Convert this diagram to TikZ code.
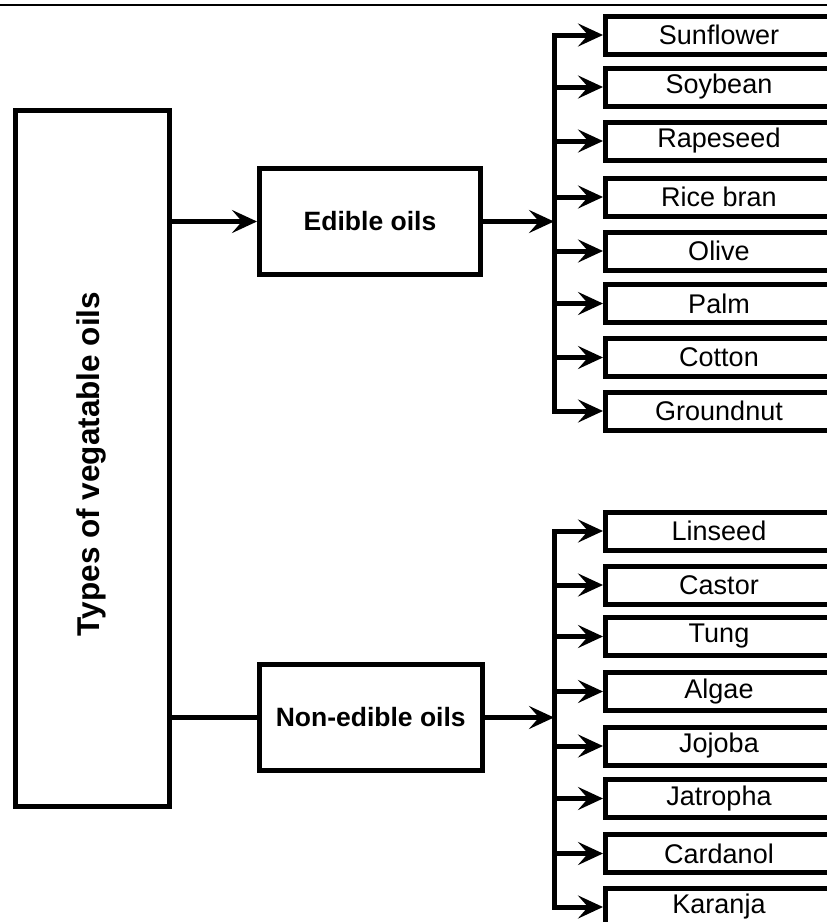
\documentclass[tikz,border=0pt]{standalone}
\usepackage{fontspec}
\setmainfont{Liberation Sans}
\usetikzlibrary{arrows.meta}
\begin{document}
\begin{tikzpicture}[x=1pt,y=-1pt,
  box/.style={draw, line width=5pt, inner sep=0pt, align=center},
  item/.style={box, minimum width=227pt, minimum height=38pt, anchor=west,
    font=\fontsize{27}{30}\selectfont},
  conn/.style={line width=5pt},
  arr/.style={conn, -{Stealth[length=25pt,width=23pt,inset=10pt]}}]
\useasboundingbox (0,0) rectangle (827,922);
\clip (0,0) rectangle (827,922);
\coordinate (rl) at (0,5);
\coordinate (rr) at (827,5);
\draw[line width=2pt] (rl) -- (rr);

\node[box, minimum width=154.5pt, minimum height=695.5pt] (types) at (92.25,458.25) {};
\node[rotate=90, inner sep=0pt, font=\bfseries\fontsize{31.5}{36}\selectfont] (typeslabel) at (91,464) {Types of vegatable oils};
\node[box, minimum width=221pt, minimum height=106pt,
  font=\bfseries\fontsize{26.5}{30}\selectfont] (edible) at (370,221.5) {Edible oils};
\node[box, minimum width=222.5pt, minimum height=106pt,
  font=\bfseries\fontsize{26.5}{30}\selectfont] (nonedible) at (370.75,717.5) {Non-edible oils};

\coordinate (eb) at (554,222);
\coordinate (nb) at (554,716);

\draw[arr] (types.east |- edible.west) -- (edible.west);
\draw[conn] (types.east |- nonedible.west) -- (nonedible.west);
\draw[arr] (edible.east) -- (edible.east -| eb);
\draw[arr] (nonedible.east) -- (nonedible.east -| nb);

\node[item] (sunflower) at (603,35) {Sunflower};
\node[item] (soybean) at (603,87) {Soybean};
\node[item] (rapeseed) at (603,141) {Rapeseed};
\node[item] (ricebran) at (603,197) {Rice bran};
\node[item] (olive) at (603,251) {Olive};
\node[item] (palm) at (603,303.5) {Palm};
\node[item] (cotton) at (603,357.5) {Cotton};
\node[item] (groundnut) at (603,411) {Groundnut};

\node[item] (linseed) at (603,531) {Linseed};
\node[item] (castor) at (603,585) {Castor};
\node[item] (tung) at (603,636.5) {Tung};
\node[item] (algae) at (603,691.5) {Algae};
\node[item] (jojoba) at (603,746) {Jojoba};
\node[item] (jatropha) at (603,798.5) {Jatropha};
\node[item] (cardanol) at (603,853.5) {Cardanol};
\node[item] (karanja) at (603,907) {Karanja};

\draw[conn, line cap=rect] (sunflower.west -| eb) -- (groundnut.west -| eb);
\draw[conn, line cap=rect] (linseed.west -| nb) -- (karanja.west -| nb);
\foreach \n in {sunflower,soybean,rapeseed,ricebran,olive,palm,cotton,groundnut}
  \draw[arr] (\n.west -| eb) -- (\n.west);
\foreach \n in {linseed,castor,tung,algae,jojoba,jatropha,cardanol,karanja}
  \draw[arr] (\n.west -| nb) -- (\n.west);
\end{tikzpicture}
\end{document}
